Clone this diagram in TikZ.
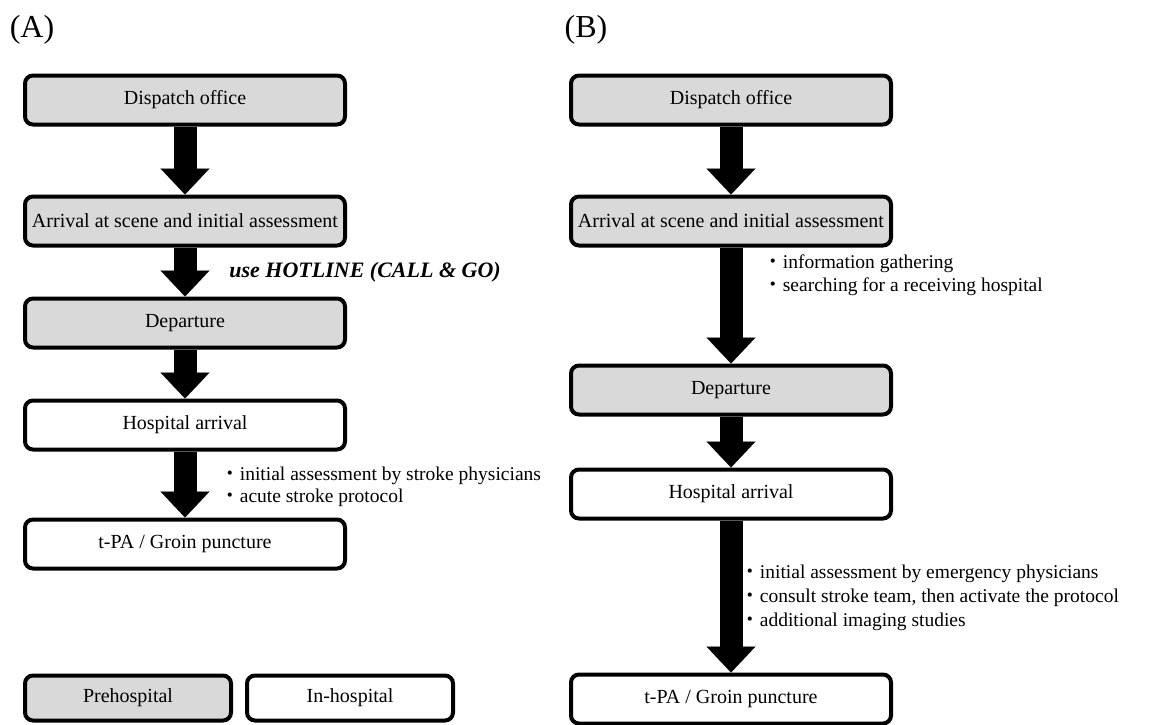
\documentclass[tikz,border=0pt]{standalone}
\usepackage{fontspec}
\setmainfont{Liberation Serif}
\newfontfamily\jpfont{Noto Sans CJK JP}
\usetikzlibrary{arrows.meta}
\definecolor{boxgray}{HTML}{D9D9D9}
\newcommand{\dotmark}{{\jpfont ・}}

\begin{document}
\begin{tikzpicture}[
    x=0.5pt, y=-0.5pt,
    every node/.style = {font=\fontsize{9.75}{11}\selectfont},
    box/.style = {draw,line width=2pt,rounded corners=4pt,inner sep=0pt,
                  minimum width=160pt,minimum height=24.5pt,
                  font=\fontsize{10}{12}\selectfont},
    pre/.style = {box,fill=boxgray},
    inh/.style = {box,fill=white},
    key/.style = {box,minimum width=103pt,minimum height=22.5pt},
    flow/.style = {line width=11.5pt,
                   -{Triangle[width=24.5pt,length=13pt,line width=0.01pt]}},
    note/.style = {anchor=west,align=left,inner sep=0pt},
    tag/.style = {font=\fontsize{16}{19}\selectfont}
  ]
    \useasboundingbox (0,0) rectangle (1152,724);

    \node[tag] (ta) at (32,30) {(A)};
    \node[tag] (tb) at (586,30) {(B)};

    % (A)
    \node[pre] (a1) at (185,100) {Dispatch office};
    \node[pre] (a2) at (185,221) {Arrival at scene and initial assessment};
    \node[pre] (a3) at (185,323) {Departure};
    \node[inh] (a4) at (185,425) {Hospital arrival};
    \node[inh] (a5) at (185,544) {t-PA / Groin puncture};
    \draw[flow] (a1) -- (a2);
    \draw[flow] (a2) -- (a3);
    \draw[flow] (a3) -- (a4);
    \draw[flow] (a4) -- (a5);
    \node[note,font=\fontsize{11}{13}\selectfont] (hl) at (229,272)
      {\textbf{\textit{use HOTLINE (CALL \& GO)}}};
    \node[note] (na) at (220,487)
      {\dotmark initial assessment by stroke physicians\\
       \dotmark acute stroke protocol};

    % (B)
    \node[pre] (b1) at (731,100) {Dispatch office};
    \node[pre] (b2) at (731,221) {Arrival at scene and initial assessment};
    \node[pre] (b3) at (731,390) {Departure};
    \node[inh] (b4) at (731,494) {Hospital arrival};
    \node[inh] (b5) at (731,699) {t-PA / Groin puncture};
    \draw[flow] (b1) -- (b2);
    \draw[flow] (b2) -- (b3);
    \draw[flow] (b3) -- (b4);
    \draw[flow] (b4) -- (b5);
    \node[note,font=\fontsize{9.75}{11.5}\selectfont] (nb1) at (763,275)
      {\dotmark information gathering\\
       \dotmark searching for a receiving hospital};
    \node[note,font=\fontsize{9.75}{12}\selectfont] (nb2) at (740,598)
      {\dotmark initial assessment by emergency physicians\\
       \dotmark consult stroke team, then activate the protocol\\
       \dotmark additional imaging studies};

    % legend
    \node[key,fill=boxgray] (k1) at (128,698) {Prehospital};
    \node[key,fill=white] (k2) at (350,698) {In-hospital};
\end{tikzpicture}
\end{document}
